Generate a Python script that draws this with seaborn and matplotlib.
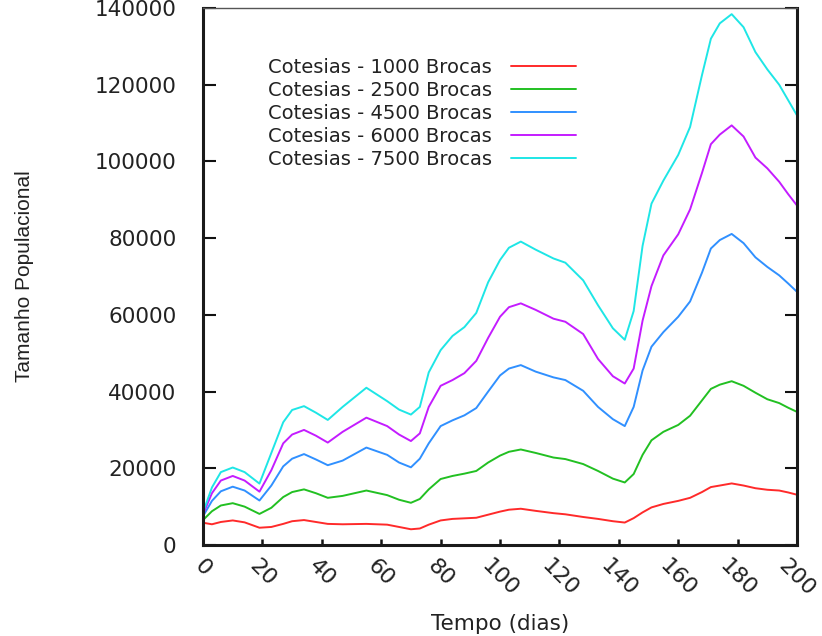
import matplotlib
matplotlib.use("Agg")
import matplotlib.pyplot as plt
import seaborn as sns
import pandas as pd

# ---- data ----
dias = [0, 3, 6, 10, 14, 19, 23, 27, 30, 34, 38, 42, 47, 55, 62, 66, 70, 73, 76,
        80, 84, 88, 92, 96, 100, 103, 107, 112, 118, 122, 128, 133, 138, 142, 145,
        148, 151, 155, 160, 164, 168, 171, 174, 178, 182, 186, 190, 194, 197, 200]

brocas_1000 = [5800, 5400, 6000, 6400, 5900, 4500, 4700, 5500, 6200, 6500, 6000, 5500,
               5400, 5500, 5300, 4700, 4100, 4300, 5300, 6400, 6800, 6950, 7100, 7900,
               8700, 9200, 9450, 8900, 8300, 8000, 7300, 6800, 6200, 5850, 7000, 8500,
               9800, 10700, 11500, 12300, 13800, 15100, 15500, 16050, 15500, 14800,
               14400, 14200, 13700, 13100]

brocas_2500 = [6500, 8800, 10300, 10900, 10000, 8100, 9700, 12500, 13800, 14500, 13500,
               12300, 12800, 14200, 13000, 11800, 11000, 12000, 14500, 17200, 18000,
               18600, 19300, 21500, 23300, 24300, 24900, 24000, 22800, 22400, 21100,
               19300, 17300, 16300, 18500, 23500, 27300, 29500, 31300, 33700, 37700,
               40700, 41800, 42700, 41500, 39700, 38000, 37000, 35800, 34700]

brocas_4500 = [7500, 11500, 14000, 15200, 14200, 11600, 15500, 20500, 22500, 23700,
               22300, 20800, 22000, 25400, 23500, 21500, 20250, 22500, 26500, 31000,
               32500, 33800, 35700, 40000, 44200, 46000, 46900, 45200, 43700, 43000,
               40200, 36000, 32800, 31000, 36000, 45500, 51700, 55500, 59500, 63500,
               71000, 77300, 79500, 81100, 78700, 75000, 72500, 70300, 68200, 66000]

brocas_6000 = [8000, 13500, 16800, 18000, 16800, 13900, 19500, 26500, 28800, 30000,
               28500, 26700, 29500, 33200, 31000, 28800, 27100, 29100, 36000, 41500,
               43000, 44800, 48000, 54000, 59500, 62000, 63000, 61300, 59000, 58200,
               55000, 48500, 44000, 42100, 46000, 58500, 67500, 75500, 81000, 87500,
               97000, 104500, 107000, 109400, 106500, 101000, 98200, 94700, 91500, 88500]

brocas_7500 = [8500, 15000, 19000, 20200, 19000, 16000, 24000, 32000, 35200, 36200,
               34500, 32600, 36000, 41000, 37500, 35300, 34000, 36000, 45000, 50800,
               54500, 56800, 60500, 68500, 74300, 77500, 79100, 77000, 74700, 73600,
               69000, 62500, 56500, 53500, 61000, 78000, 89000, 95000, 101700, 109000,
               122500, 132000, 136000, 138400, 135000, 128500, 124000, 120000, 116000,
               112000]

rotulos = ["Cotesias - 1000 Brocas", "Cotesias - 2500 Brocas", "Cotesias - 4500 Brocas",
           "Cotesias - 6000 Brocas", "Cotesias - 7500 Brocas"]
series = [brocas_1000, brocas_2500, brocas_4500, brocas_6000, brocas_7500]
cores = ["#ff2a2a", "#22c022", "#3090ff", "#c41cff", "#1ee6e6"]

yticks = [0, 20000, 40000, 60000, 80000, 100000, 120000, 140000]
xticks = [0, 20, 40, 60, 80, 100, 120, 140, 160, 180, 200]

# ---- build long-form table ----
rows = []
for lab, vals in zip(rotulos, series):
    for d, v in zip(dias, vals):
        rows.append({"dia": d, "valor": v, "serie": lab})
df = pd.DataFrame(rows)

sns.set_style("white")
plt.rcParams["font.family"] = ["DejaVu Sans"]

fig = plt.figure(figsize=(8.22, 6.36), dpi=100)
ax = fig.add_axes([0.247, 0.1431, 0.9696 - 0.247, 0.9874 - 0.1431])

sns.lineplot(data=df, x="dia", y="valor", hue="serie", hue_order=rotulos,
             palette=dict(zip(rotulos, cores)), linewidth=1.4, ax=ax,
             estimator=None, sort=True)

ax.set_xlim(0, 200)
ax.set_ylim(0, 140000)
ax.set_xticks(xticks)
ax.set_yticks(yticks)
ax.set_xticklabels([str(t) for t in xticks], rotation=-45, ha="center", va="top",
                   fontsize=16, color="#222222")
ax.set_yticklabels([str(t) for t in yticks], fontsize=15.5, color="#222222")

ax.tick_params(axis="y", direction="in", length=9, width=1.5, pad=19,
               left=True, right=True, color="#111111")
ax.tick_params(axis="x", direction="in", length=4.5, width=1.8, pad=8,
               bottom=True, top=False, color="#111111")

for s in ["left", "bottom", "right"]:
    ax.spines[s].set_linewidth(2.2)
    ax.spines[s].set_color("#1a1a1a")
ax.spines["top"].set_linewidth(1.0)
ax.spines["top"].set_color("#555555")

ax.set_xlabel("Tempo (dias)", fontsize=15.5, color="#222222", labelpad=10)
ax.set_ylabel("Tamanho Populacional", fontsize=15, color="#222222",
              family=["Liberation Sans", "DejaVu Sans"], labelpad=44)

leg = ax.legend(loc="upper left", bbox_to_anchor=(268 / 822, 1 - 58 / 636),
                bbox_transform=fig.transFigure, frameon=False, markerfirst=False,
                fontsize=14, handlelength=3.3, handletextpad=1.0,
                labelspacing=0.2, borderpad=0, borderaxespad=0)
for t in leg.get_texts():
    t.set_color("#222222")

fig.savefig("out.png", dpi=100)
